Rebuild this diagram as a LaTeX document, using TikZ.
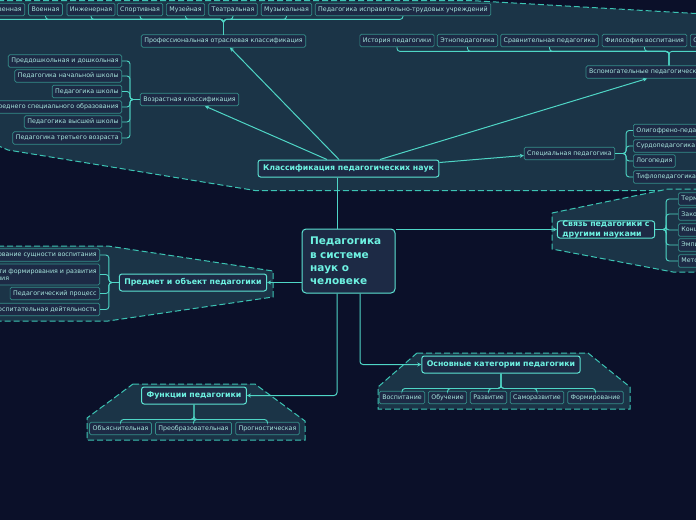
\documentclass[tikz,border=0pt]{standalone}
\usepackage{fontspec}
\setmainfont{DejaVu Sans}
\usepackage{xcolor}
\usepackage{tikz}
\usetikzlibrary{arrows.meta,positioning,calc}

\definecolor{bgnavy}{HTML}{0B1029}
\definecolor{zonefill}{HTML}{1B3447}
\definecolor{zoneline}{HTML}{3CC4B4}
\definecolor{leaffill}{HTML}{1D2A45}
\definecolor{leafline}{HTML}{358E8A}
\definecolor{leaftext}{HTML}{A8E6DE}
\definecolor{mainline}{HTML}{5DE3D3}
\definecolor{maintext}{HTML}{6EF2E2}
\definecolor{wire}{HTML}{4FD6C6}

\begin{document}
\begin{tikzpicture}[
    x=1pt, y=-1pt,
    >={Stealth[length=4pt,width=4pt]},
    leaf/.style={draw=leafline, fill=leaffill, rounded corners=1.5pt, line width=0.7pt, text=leaftext,
      font=\fontsize{6.3}{7.4}\selectfont, inner xsep=3pt, inner ysep=0pt, minimum height=12.5pt},
    topic/.style={draw=mainline, fill=leaffill, rounded corners=2.5pt, line width=1pt, text=maintext,
      font=\bfseries\fontsize{7.8}{9.6}\selectfont, inner xsep=5pt, inner ysep=0pt, minimum height=17pt, align=left},
    core/.style={draw=mainline, fill=leaffill, rounded corners=4pt, line width=1pt, text=maintext,
      font=\bfseries\fontsize{10.5}{13.3}\selectfont, inner xsep=8pt, text width=77pt, minimum height=64pt, align=left},
    zone/.style={fill=zonefill, draw=zoneline, line width=1pt, dash pattern=on 6pt off 3pt},
    link/.style={draw=wire, line width=1pt},
    tree/.style={draw=wire, line width=0.9pt, rounded corners=3pt}
]
  \useasboundingbox (0,0) rectangle (696,520);
  \clip (0,0) rectangle (696,520);
  \fill[bgnavy] (0,0) rectangle (696,520);

  % Group backgrounds
  \path[zone] (-20,0.5) -- (470,0.5) -- (696,13.5) -- (720,15) -- (720,190.5) -- (255,190.5) -- (8,150) -- (-20,138) -- cycle;
  \path[zone] (552,213) -- (668,189) -- (720,189) -- (720,272) -- (673,272) -- (552,249) -- cycle;
  \path[zone] (-20,246) -- (108,246) -- (273,271) -- (273,297) -- (108,321) -- (-20,321) -- cycle;
  \path[zone] (133,384) -- (255,384) -- (305,421) -- (305,440) -- (87,440) -- (87,418) -- cycle;
  \path[zone] (417,353) -- (588,353) -- (630,387) -- (630,409) -- (378,409) -- (378,387) -- cycle;

  \coordinate (trunk) at (337,0);
  \coordinate (trunkb) at (360,0);

  % Central node
  \node[core] (central) at (348.5,261) {Педагогика\\в системе\\наук о\\человеке};

  % Classification of sciences
  \node[topic] (klass) at (348.5,168.5) {Классификация педагогических наук};
  \node[leaf] (prof) at (223.5,41) {Профессиональная отраслевая классификация};
  \node[leaf] (age) at (189.5,99.5) {Возрастная классификация};
  \node[leaf, text width=160pt, align=left] (aux) at (669,72) {Вспомогательные педагогические науки};
  \node[leaf] (spec) at (569.5,153.5) {Специальная педагогика};

  % Branch pedagogy
  \node[leaf, anchor=east] (pr1) at (25,9.5) {Производственная};
  \node[leaf] (pr2) at (45.5,9.5) {Военная};
  \node[leaf] (pr3) at (91,9.5) {Инженерная};
  \node[leaf] (pr4) at (140,9.5) {Спортивная};
  \node[leaf] (pr5) at (185.5,9.5) {Музейная};
  \node[leaf] (pr6) at (233,9.5) {Театральная};
  \node[leaf] (pr7) at (286.5,9.5) {Музыкальная};
  \node[leaf] (pr8) at (403,9.5) {Педагогика исправительно-трудовых учреждений};

  % Age pedagogy
  \node[leaf, anchor=east] (ag1) at (122,61) {Преддошкольная и дошкольная};
  \node[leaf, anchor=east] (ag2) at (122,76) {Педагогика начальной школы};
  \node[leaf, anchor=east] (ag3) at (122,91.5) {Педагогика школы};
  \node[leaf, anchor=east] (ag4) at (122,107) {Педагогика среднего специального образования};
  \node[leaf, anchor=east] (ag5) at (122,122) {Педагогика высшей школы};
  \node[leaf, anchor=east] (ag6) at (122,138) {Педагогика третьего возраста};

  % Auxiliary sciences
  \node[leaf] (ax1) at (397,40.5) {История педагогики};
  \node[leaf] (ax2) at (467.5,40.5) {Этнопедагогика};
  \node[leaf] (ax3) at (549.5,40.5) {Сравнительная педагогика};
  \node[leaf] (ax4) at (644.5,40.5) {Философия воспитания};
  \node[leaf, anchor=west] (ax5) at (690,40.5) {Социальная педагогика};

  % Special pedagogy
  \node[leaf, anchor=west] (sp1) at (633,130.5) {Олигофрено-педагогика};
  \node[leaf, anchor=west] (sp2) at (633,146) {Сурдопедагогика};
  \node[leaf, anchor=west] (sp3) at (633,161) {Логопедия};
  \node[leaf, anchor=west] (sp4) at (633,177) {Тифлопедагогика};

  % Links with other sciences
  \node[topic] (link) at (606,229.5) {Связь педагогики с\\другими науками};
  \node[leaf, anchor=west] (ln1) at (678,199) {Термины};
  \node[leaf, anchor=west] (ln2) at (678,214) {Законы};
  \node[leaf, anchor=west] (ln3) at (678,230) {Концепции};
  \node[leaf, anchor=west] (ln4) at (678,245) {Эмпирические данные};
  \node[leaf, anchor=west] (ln5) at (678,261) {Методы};

  % Subject and object
  \node[topic] (subj) at (193,282.5) {Предмет и объект педагогики};
  \node[leaf, anchor=east] (sb1) at (100,255) {Исследование сущности воспитания};
  \node[leaf, anchor=east, align=left, minimum height=21pt] (sb2) at (100,274.5) {Закономерности формирования и развития\\юного поколения};
  \node[leaf, anchor=east] (sb3) at (100,293.5) {Педагогический процесс};
  \node[leaf, anchor=east] (sb4) at (100,309.5) {Воспитательная дейтяльность};

  % Functions
  \node[topic] (func) at (194,395.5) {Функции педагогики};
  \node[leaf] (fn1) at (120.5,428.5) {Объяснительная};
  \node[leaf] (fn2) at (193.5,428.5) {Преобразовательная};
  \node[leaf] (fn3) at (267.5,428.5) {Прогностическая};

  % Basic categories
  \node[topic] (cat) at (501,364.5) {Основные категории педагогики};
  \node[leaf] (ct1) at (402,397.5) {Воспитание};
  \node[leaf] (ct2) at (447.5,397.5) {Обучение};
  \node[leaf] (ct3) at (488.5,397.5) {Развитие};
  \node[leaf] (ct4) at (537,397.5) {Саморазвитие};
  \node[leaf] (ct5) at (595.5,397.5) {Формирование};

  % Connections from the central node
  \draw[link] (klass.south -| trunk) -- (central.north -| trunk);
  \draw[link, ->] (link.west -| central.east) -- (link.west);
  \draw[link, ->] (subj.east -| central.west) -- (subj.east);
  \draw[link, ->, rounded corners=3pt] (central.south -| trunk) |- (func.east);
  \draw[link, ->, rounded corners=3pt] (central.south -| trunkb) |- (cat.west);

  % Connections of the classification
  \draw[link, ->] ($(klass.north)+(-9.5,0)$) -- ($(prof.south)+(6.5,0)$);
  \draw[link, ->] ($(klass.north)+(-21.5,0)$) -- ($(age.south)+(15.5,0)$);
  \draw[link, ->] ($(klass.north)+(31.5,0)$) -- ($(aux.south)+(-22,0)$);
  \draw[link, ->] ($(klass.east)+(0,-6)$) -- ($(spec.west)+(0,2)$);

  % Brackets
  \draw[tree] (prof.north) -- ++(0,-15) -| (pr1.south);
  \draw[tree] (prof.north) -- ++(0,-15) -| (pr2.south);
  \draw[tree] (prof.north) -- ++(0,-15) -| (pr3.south);
  \draw[tree] (prof.north) -- ++(0,-15) -| (pr4.south);
  \draw[tree] (prof.north) -- ++(0,-15) -| (pr5.south);
  \draw[tree] (prof.north) -- ++(0,-15) -| (pr6.south);
  \draw[tree] (prof.north) -- ++(0,-15) -| (pr7.south);
  \draw[tree] (prof.north) -- ++(0,-15) -| (pr8.south);

  \draw[tree] (age.west) -- ++(-10,0) |- (ag1.east);
  \draw[tree] (age.west) -- ++(-10,0) |- (ag2.east);
  \draw[tree] (age.west) -- ++(-10,0) |- (ag3.east);
  \draw[tree] (age.west) -- ++(-10,0) |- (ag4.east);
  \draw[tree] (age.west) -- ++(-10,0) |- (ag5.east);
  \draw[tree] (age.west) -- ++(-10,0) |- (ag6.east);

  \draw[tree] (aux.north) -- ++(0,-14) -| (ax1.south);
  \draw[tree] (aux.north) -- ++(0,-14) -| (ax2.south);
  \draw[tree] (aux.north) -- ++(0,-14) -| (ax3.south);
  \draw[tree] (aux.north) -- ++(0,-14) -| (ax4.south);
  \draw[tree] (aux.north) -- ++(0,-14) -| (ax5.south);

  \draw[tree] (spec.east) -- ++(11,0) |- (sp1.west);
  \draw[tree] (spec.east) -- ++(11,0) |- (sp2.west);
  \draw[tree] (spec.east) -- ++(11,0) |- (sp3.west);
  \draw[tree] (spec.east) -- ++(11,0) |- (sp4.west);

  \draw[tree] (link.east) -- ++(11,0) |- (ln1.west);
  \draw[tree] (link.east) -- ++(11,0) |- (ln2.west);
  \draw[tree] (link.east) -- ++(11,0) |- (ln3.west);
  \draw[tree] (link.east) -- ++(11,0) |- (ln4.west);
  \draw[tree] (link.east) -- ++(11,0) |- (ln5.west);

  \draw[tree] (subj.west) -- ++(-10,0) |- (sb1.east);
  \draw[tree] (subj.west) -- ++(-10,0) |- (sb2.east);
  \draw[tree] (subj.west) -- ++(-10,0) |- (sb3.east);
  \draw[tree] (subj.west) -- ++(-10,0) |- (sb4.east);

  \draw[tree] (func.south) -- ++(0,15) -| (fn1.north);
  \draw[tree] (func.south) -- ++(0,15) -| (fn2.north);
  \draw[tree] (func.south) -- ++(0,15) -| (fn3.north);

  \draw[tree] (cat.south) -- ++(0,15) -| (ct1.north);
  \draw[tree] (cat.south) -- ++(0,15) -| (ct2.north);
  \draw[tree] (cat.south) -- ++(0,15) -| (ct3.north);
  \draw[tree] (cat.south) -- ++(0,15) -| (ct4.north);
  \draw[tree] (cat.south) -- ++(0,15) -| (ct5.north);
\end{tikzpicture}
\end{document}
